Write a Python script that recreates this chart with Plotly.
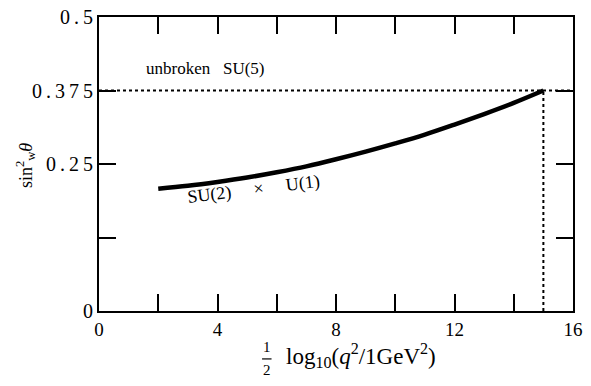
import plotly.graph_objects as go

# data
curve_x = [2, 3, 4, 5, 6, 7, 8, 9, 10, 11, 12, 13, 14, 15]
curve_y = [0.208, 0.213, 0.2195, 0.227, 0.236, 0.246, 0.258, 0.271, 0.285, 0.300, 0.317, 0.335, 0.354, 0.375]
su5_value = 0.375
unification_scale = 15
x_range = [0, 16]
y_range = [0, 0.5]
x_tickvals = [0, 2, 4, 6, 8, 10, 12, 14, 16]
x_ticktext = ["0", "", "4", "", "8", "", "12", "", "16"]
y_tickvals = [0, 0.125, 0.25, 0.375, 0.5]
y_ticktext = ["0", "", "0\u2009.\u20092\u20095", "0\u2009.\u20093\u20097\u20095", "0\u2009.\u20095"]

FONT = "Liberation Serif"

fig = go.Figure()
fig.add_trace(go.Scatter(x=[x_range[0], x_range[1]], y=[su5_value, su5_value], mode="lines",
                         line=dict(color="black", width=2, dash="dot"), hoverinfo="skip"))
fig.add_trace(go.Scatter(x=[unification_scale, unification_scale], y=[y_range[0], su5_value], mode="lines",
                         line=dict(color="black", width=2, dash="dot"), hoverinfo="skip"))
fig.add_trace(go.Scatter(x=curve_x, y=curve_y, mode="lines", line=dict(color="black", width=4.5, shape="spline")))

axis_common = dict(showgrid=False, zeroline=False, showline=True, linecolor="black", linewidth=2,
                   ticks="inside", ticklen=17, tickwidth=2, tickcolor="black", mirror="allticks",
                   automargin=False, ticklabeloverflow="allow")

fig.update_layout(
    width=575, height=370,
    margin=dict(l=91, r=10, t=9, b=67),
    plot_bgcolor="white", paper_bgcolor="white",
    showlegend=False,
    font=dict(family=FONT, color="black"),
    xaxis=dict(range=x_range, tickmode="array", tickvals=x_tickvals, ticktext=x_ticktext,
               tickfont=dict(family=FONT, size=19, color="black"), **axis_common),
    yaxis=dict(range=y_range, tickmode="array", tickvals=y_tickvals, ticktext=y_ticktext,
               tickfont=dict(family=FONT, size=20, color="black"), **axis_common),
)

fig.add_annotation(x=3.6, y=0.413, xref="x", yref="y", text="unbroken\u2002 SU(5)", showarrow=False,
                   font=dict(family=FONT, size=17), xanchor="center", yanchor="middle")
fig.add_annotation(x=5.2, y=0.207, xref="x", yref="y", text="SU(2)\u2003 ×\u2003 U(1)", showarrow=False,
                   font=dict(family=FONT, size=18), textangle=-7, xanchor="center", yanchor="middle")

# y axis title
fig.add_annotation(x=-0.156, y=0.493, xref="paper", yref="paper",
                   text="sin<sup>2</sup><sub>w</sub><i>θ</i>", showarrow=False, textangle=-90,
                   font=dict(family=FONT, size=18), xanchor="center", yanchor="middle")
# x axis title with stacked fraction
fig.add_annotation(x=0.553, y=-0.150, xref="paper", yref="paper",
                   text="log<sub>10</sub>(<i>q</i><sup>2</sup>/1GeV<sup>2</sup>)", showarrow=False,
                   font=dict(family=FONT, size=23), xanchor="center", yanchor="middle")
fig.add_annotation(x=0.354, y=-0.122, xref="paper", yref="paper", text="1", showarrow=False,
                   font=dict(family=FONT, size=15), xanchor="center", yanchor="middle")
fig.add_annotation(x=0.354, y=-0.201, xref="paper", yref="paper", text="2", showarrow=False,
                   font=dict(family=FONT, size=15), xanchor="center", yanchor="middle")
fig.add_shape(type="line", xref="paper", yref="paper", x0=0.344, x1=0.364, y0=-0.163, y1=-0.163,
              line=dict(color="black", width=1.2))

fig.write_html("out.html")
